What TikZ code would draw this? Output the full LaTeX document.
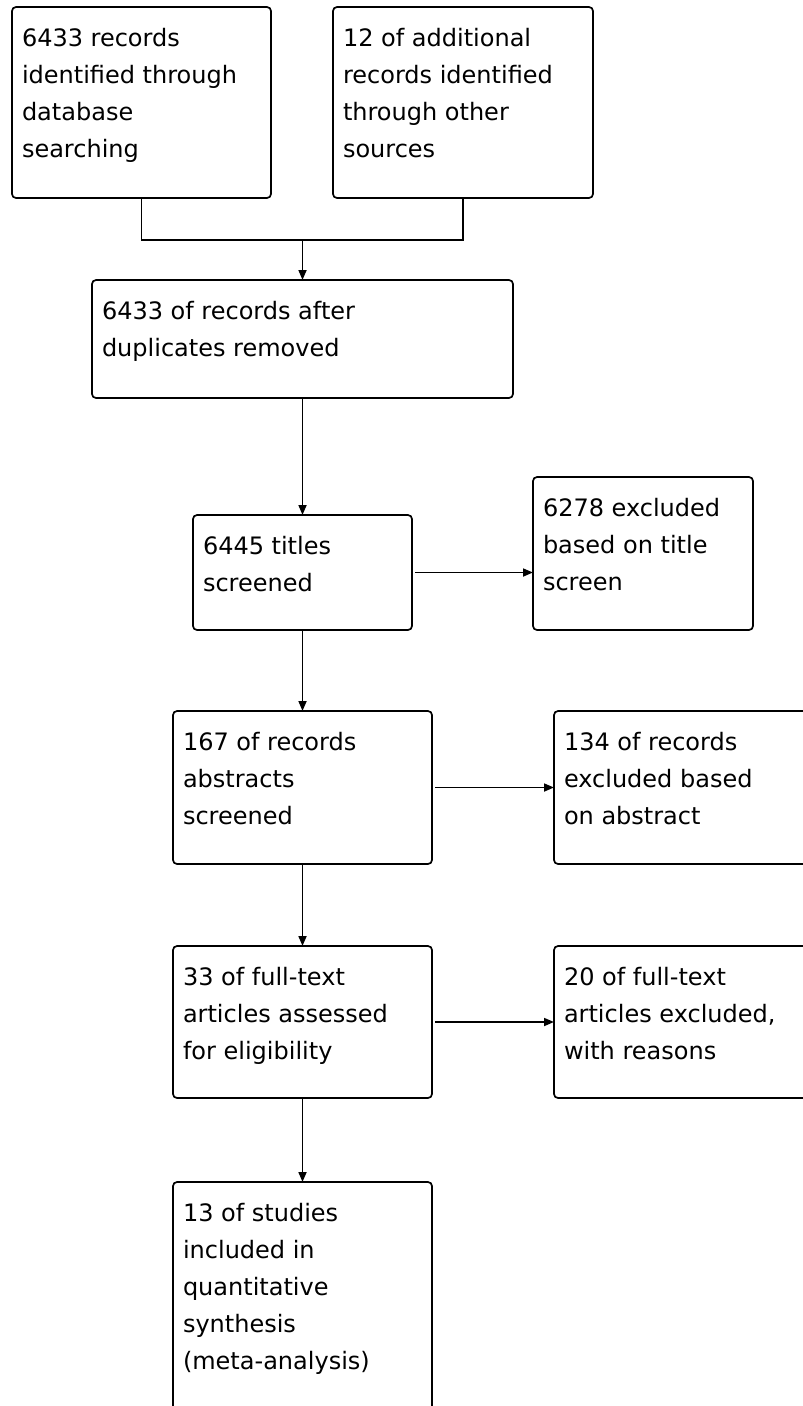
\documentclass[tikz,border=0pt]{standalone}
\usepackage{fontspec}
\setmainfont{DejaVu Sans}
\usetikzlibrary{arrows.meta}
\tikzset{>={Triangle[length=10pt,width=8pt]}}
\newcommand{\stagetext}[3]{\parbox[t][#1][t]{#2}{\raggedright\rule{0pt}{39pt}#3}}

\begin{document}
\begin{tikzpicture}[x=1pt,y=-1pt,
    stage/.style={draw,line width=1.7pt,rounded corners=4pt,anchor=north west,
      inner xsep=10pt,inner ysep=0pt,outer sep=0pt,font=\fontsize{24}{37}\selectfont},
    link/.style={line width=1.7pt}]
    \clip (0,0) rectangle (803,1406);

    \node[stage] (db) at (12,7) {\stagetext{191pt}{239pt}{6433 records\\identified through\\database\\searching}};
    \node[stage] (other) at (333,7) {\stagetext{191pt}{240pt}{12 of additional\\records identified\\through other\\sources}};
    \node[stage] (dup) at (92,280) {\stagetext{118pt}{401pt}{6433 of records after\\duplicates removed}};
    \node[stage] (titles) at (193,515) {\stagetext{115pt}{199pt}{6445 titles\\screened}};
    \node[stage] (extitle) at (533,477) {\stagetext{153pt}{200pt}{6278 excluded\\based on title\\screen}};
    \node[stage] (abstr) at (173,711) {\stagetext{153pt}{239pt}{167 of records\\abstracts\\screened}};
    \node[stage] (exabstr) at (554,711) {\stagetext{153pt}{240pt}{134 of records\\excluded based\\on abstract}};
    \node[stage] (full) at (173,946) {\stagetext{152pt}{239pt}{33 of full-text\\articles assessed\\for eligibility}};
    \node[stage] (exfull) at (554,946) {\stagetext{152pt}{240pt}{20 of full-text\\articles excluded,\\with reasons}};
    \node[stage] (incl) at (173,1182) {\stagetext{240pt}{239pt}{13 of studies\\included in\\quantitative\\synthesis\\(meta-analysis)}};

    % merge of the two sources
    \coordinate (join) at (302.5,240);
    \draw[link] (db.south) |- (join) -| (other.south);
    \draw[link,->] (join) -- (dup.north);

    % main flow
    \draw[link,->] (dup.south) -- (titles.north);
    \draw[link,->] (titles.south) -- (abstr.north);
    \draw[link,->] (abstr.south) -- (full.north);
    \draw[link,->] (full.south) -- (incl.north);

    % exclusions
    \draw[link,->,shorten <=3pt] (titles.east) -- (titles.east -| extitle.west);
    \draw[link,->,shorten <=3pt] (abstr.east) -- (abstr.east -| exabstr.west);
    \draw[link,->,shorten <=3pt] (full.east) -- (full.east -| exfull.west);
\end{tikzpicture}
\end{document}
